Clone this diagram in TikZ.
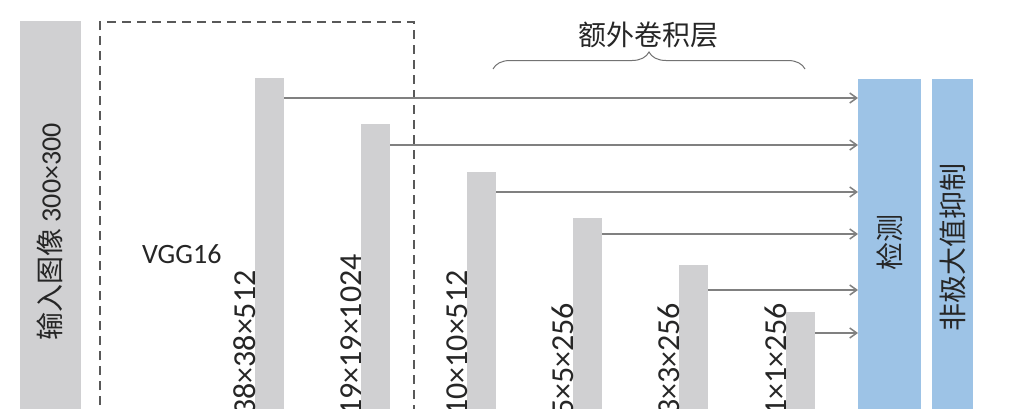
\documentclass[tikz,border=0pt]{standalone}
\usepackage{fontspec}
\setmainfont{Carlito}
\newfontfamily\cjk{Noto Sans CJK SC}
\usetikzlibrary{arrows.meta,decorations.pathreplacing}
\definecolor{barGray}{HTML}{D0D0D2}
\definecolor{boxBlue}{HTML}{9DC3E6}
\definecolor{txtGray}{HTML}{262626}
\tikzset{
	bar/.style={fill=barGray, inner sep=0, minimum width=29pt, anchor=north west},
	bluebox/.style={fill=boxBlue, inner sep=0, anchor=north west, minimum height=341pt},
	dimlabel/.style={rotate=90, anchor=base west, inner sep=0, text=txtGray, font=\fontsize{32}{32}\selectfont},
	bigtext/.style={text=txtGray, inner sep=0, font=\fontsize{28}{28}\selectfont},
	link/.style={draw=black!50, line width=1.5pt, -{Straight Barb[length=7pt,width=10pt]}},
}

\begin{document}
\begin{tikzpicture}[x=1pt, y=-1pt]
		%%%%% START %%%%%
		\useasboundingbox[fill=white] (0,0) rectangle (1024,408);
		
		\node[bar, minimum width=61pt, minimum height=400pt] (inp) at (20,21) {};
		\node[bigtext, rotate=90] (inptext) at (50,232) {{\cjk 输入图像} 300×300};
		
		\draw[draw=black!65, line width=1.2pt, dash pattern=on 9pt off 6pt] (100,420) -- (100,22) -- (414,22) -- (414,420);
		\node[bigtext, anchor=base west] (vgg) at (142,263) {VGG16};
		
		\node[bar, minimum height=342pt] (b1) at (255,78) {};
		\node[bar, minimum height=296pt] (b2) at (361,124) {};
		\node[bar, minimum height=248pt] (b3) at (467,172) {};
		\node[bar, minimum height=202pt] (b4) at (573,218) {};
		\node[bar, minimum height=155pt] (b5) at (679,265) {};
		\node[bar, minimum height=108pt] (b6) at (786,312) {};
		
		\node[dimlabel] (l1) at (b1.west |- 0,416) {38×38×512};
		\node[dimlabel] (l2) at (b2.west |- 0,416) {19×19×1024};
		\node[dimlabel] (l3) at (b3.west |- 0,416) {10×10×512};
		\node[dimlabel] (l4) at (b4.west |- 0,416) {5×5×256};
		\node[dimlabel] (l5) at (b5.west |- 0,416) {3×3×256};
		\node[dimlabel] (l6) at (b6.west |- 0,416) {1×1×256};
		
		\node[bluebox, minimum width=63pt] (det) at (858,79) {};
		\node[bigtext, rotate=90] (dettext) at (890,242) {\cjk 检测};
		\node[bluebox, minimum width=41pt] (nms) at (932,79) {};
		\node[bigtext, rotate=90] (nmstext) at (953,247) {\cjk 非极大值抑制};
		
		\coordinate (o1) at ([yshift=-20pt]b1.north east);
		\coordinate (o2) at ([yshift=-21pt]b2.north east);
		\coordinate (o3) at ([yshift=-20pt]b3.north east);
		\coordinate (o4) at ([yshift=-16pt]b4.north east);
		\coordinate (o5) at ([yshift=-25pt]b5.north east);
		\coordinate (o6) at ([yshift=-21pt]b6.north east);
		\draw[link] (o1) -- (o1 -| det.west);
		\draw[link] (o2) -- (o2 -| det.west);
		\draw[link] (o3) -- (o3 -| det.west);
		\draw[link] (o4) -- (o4 -| det.west);
		\draw[link] (o5) -- (o5 -| det.west);
		\draw[link] (o6) -- (o6 -| det.west);
		
		\coordinate (brl) at (493,69);
		\coordinate (brr) at (805,69);
		\draw[draw=black!55, line width=1pt, decorate, decoration={brace, amplitude=17pt}] (brl) -- (brr);
		\node[bigtext] (extra) at (648,35) {\cjk 额外卷积层};
		
		%%%%% END %%%%%
	\end{tikzpicture}
\end{document}
